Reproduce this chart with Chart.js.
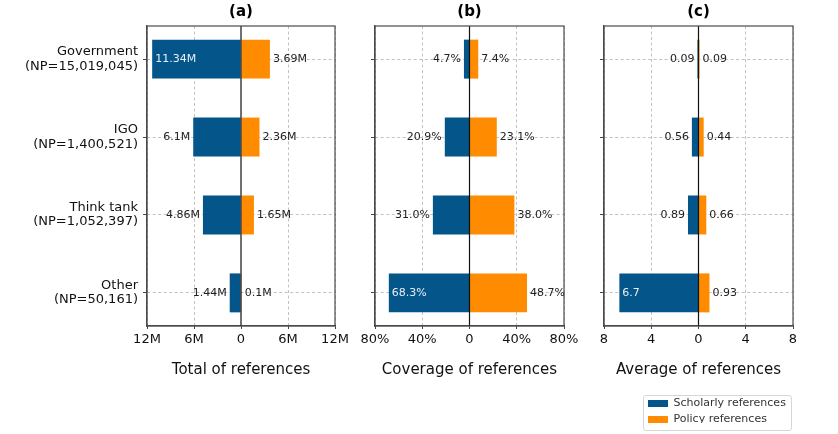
<!DOCTYPE html>
<html>
<head>
<meta charset="utf-8">
<script src="https://cdn.jsdelivr.net/npm/chart.js@4.4.1/dist/chart.umd.min.js"></script>
<style>
  html, body { margin: 0; padding: 0; background: #fff; }
  #wrap { position: relative; width: 838px; height: 434px; overflow: hidden; }
  .panel { position: absolute; top: 0; }
  #legendBox { position: absolute; left: 643px; top: 395px; width: 149px; height: 36px; border: 1px solid #d6d6d6; border-radius: 3px; overflow: hidden; box-sizing: border-box; }
  #legendBox canvas { position: absolute; left: -1px; top: -3px; }
</style>
</head>
<body>
<div id="wrap">
  <canvas id="chartA" class="panel" width="360" height="434" style="left:0px"></canvas>
  <canvas id="chartB" class="panel" width="240" height="434" style="left:345px"></canvas>
  <canvas id="chartC" class="panel" width="240" height="434" style="left:575px"></canvas>
  <div id="legendBox"><canvas id="legendChart" width="160" height="60"></canvas></div>
</div>
<script>
// categories (y axis, two-line labels)
const categories = [
    ['Government', '(NP=15,019,045)'],
    ['IGO', '(NP=1,400,521)'],
    ['Think tank', '(NP=1,052,397)'],
    ['Other', '(NP=50,161)']
];
const seriesNames = ['Scholarly references', 'Policy references'];

// (a) total of references, in millions
const totalScholarly = [11.34, 6.1, 4.86, 1.44];
const totalPolicy = [3.69, 2.36, 1.65, 0.1];
// (b) coverage, percent
const coverageScholarly = [4.7, 20.9, 31.0, 68.3];
const coveragePolicy = [7.4, 23.1, 38.0, 48.7];
// (c) average
const averageScholarly = [0.09, 0.56, 0.89, 6.7];
const averagePolicy = [0.09, 0.44, 0.66, 0.93];

const panelTitles = ['(a)', '(b)', '(c)'];
const axisTitles = ['Total of references', 'Coverage of references', 'Average of references'];
const axisLimits = [12, 80, 8];
const axisSteps = [6, 40, 4];
const tickUnits = ['M', '%', ''];

const BLUE = '#03558a';
const ORANGE = '#ff8c00';
const FONT = '"DejaVu Sans", sans-serif';

Chart.defaults.font.family = FONT;
Chart.defaults.color = '#111';

// box round the plot and the black zero line
const framePlugin = {
    id: 'frame',
    afterDatasetsDraw(chart) {
        const {ctx, chartArea: a, scales: {x}} = chart;
        const x0 = x.getPixelForValue(0);
        ctx.save();
        ctx.strokeStyle = '#111';
        ctx.lineWidth = 1.2;
        ctx.beginPath();
        ctx.moveTo(x0, a.top);
        ctx.lineTo(x0, a.bottom);
        ctx.stroke();
        ctx.strokeStyle = '#4a4a4a';
        ctx.lineWidth = 1.2;
        ctx.strokeRect(a.left, a.top, a.right - a.left, a.bottom - a.top);
        ctx.restore();
    }
};

// value labels next to (or inside) each bar
function valueLabels(fmt, lim) {
    return {
        id: 'valueLabels',
        afterDatasetsDraw(chart) {
            const ctx = chart.ctx;
            ctx.save();
            ctx.font = '11px ' + FONT;
            ctx.textBaseline = 'middle';
            chart.data.datasets.forEach((ds, di) => {
                chart.getDatasetMeta(di).data.forEach((bar, i) => {
                    const v = Math.abs(ds.data[i].x);
                    const txt = fmt(v);
                    if (di === 0) {
                        if (v > lim * 0.7) {
                            ctx.fillStyle = '#e9eef3';
                            ctx.textAlign = 'left';
                            ctx.fillText(txt, bar.x + 3, bar.y);
                        } else {
                            ctx.fillStyle = '#222';
                            ctx.textAlign = 'right';
                            ctx.fillText(txt, bar.x - 3, bar.y);
                        }
                    } else {
                        ctx.fillStyle = '#222';
                        ctx.textAlign = 'left';
                        ctx.fillText(txt, bar.x + 3, bar.y);
                    }
                });
            });
            ctx.restore();
        }
    };
}

function makePanel(id, k, scholarly, policy, fmt, axisWidth, padRight, showLabels) {
    const lim = axisLimits[k];
    const unit = tickUnits[k];
    return new Chart(document.getElementById(id), {
        type: 'bar',
        data: {
            datasets: [{
                label: seriesNames[0],
                data: scholarly.map((v, i) => ({x: -v, y: i})),
                backgroundColor: BLUE,
                borderWidth: 0,
                grouped: false,
                barPercentage: 0.5,
                categoryPercentage: 1
            }, {
                label: seriesNames[1],
                data: policy.map((v, i) => ({x: v, y: i})),
                backgroundColor: ORANGE,
                borderWidth: 0,
                grouped: false,
                barPercentage: 0.5,
                categoryPercentage: 1
            }]
        },
        options: {
            indexAxis: 'y',
            responsive: false,
            animation: false,
            layout: {padding: {left: 0, right: padRight, top: 0, bottom: 55}},
            plugins: {
                legend: {display: false},
                tooltip: {enabled: false},
                title: {
                    display: true,
                    text: panelTitles[k],
                    fullSize: false,
                    color: '#000',
                    font: {size: 15, weight: 'bold'},
                    padding: {top: 3, bottom: 5}
                }
            },
            scales: {
                x: {
                    type: 'linear',
                    min: -lim,
                    max: lim,
                    ticks: {
                        stepSize: axisSteps[k],
                        autoSkip: false,
                        maxRotation: 0,
                        padding: 3,
                        font: {size: 13},
                        color: '#111',
                        callback: v => v === 0 ? '0' : Math.abs(v) + unit
                    },
                    grid: {
                        color: c => (c.tick && c.tick.value === 0) ? 'rgba(0,0,0,0)' : '#c2c2c2',
                        tickColor: '#444',
                        tickLength: 3,
                        tickBorderDash: []
                    },
                    border: {color: '#4a4a4a', width: 1.2, dash: [3, 2.5]},
                    title: {display: true, text: axisTitles[k], font: {size: 15}, color: '#111', padding: 0},
                    afterFit: s => { s.height = 53; }
                },
                y: {
                    type: 'linear',
                    reverse: true,
                    offset: false,
                    min: -0.425,
                    max: 3.425,
                    afterBuildTicks: s => { s.ticks = categories.map((c, i) => ({value: i})); },
                    ticks: {
                        display: showLabels,
                        padding: 5,
                        font: {size: 13, lineHeight: 1.1},
                        color: '#111',
                        callback: (v, i) => categories[i]
                    },
                    grid: {offset: false, color: '#c2c2c2', tickColor: '#444', tickLength: 4, tickBorderDash: []},
                    border: {color: '#4a4a4a', width: 1.2, dash: [3, 2.5]},
                    afterFit: s => { s.width = axisWidth; }
                }
            }
        },
        plugins: [framePlugin, valueLabels(fmt, lim)]
    });
}

makePanel('chartA', 0, totalScholarly, totalPolicy, v => v + 'M', 147, 25, true);
makePanel('chartB', 1, coverageScholarly, coveragePolicy, v => v.toFixed(1) + '%', 30, 21, false);
makePanel('chartC', 2, averageScholarly, averagePolicy, v => String(v), 29, 22, false);

// legend
new Chart(document.getElementById('legendChart'), {
    type: 'bar',
    data: {
        labels: [],
        datasets: [
            {label: seriesNames[0], data: [], backgroundColor: BLUE, borderWidth: 0},
            {label: seriesNames[1], data: [], backgroundColor: ORANGE, borderWidth: 0}
        ]
    },
    options: {
        responsive: false,
        animation: false,
        layout: {padding: 0},
        scales: {x: {display: false}, y: {display: false}},
        plugins: {
            tooltip: {enabled: false},
            legend: {
                position: 'top',
                align: 'start',
                labels: {boxWidth: 20, boxHeight: 7, padding: 5, color: '#333', font: {size: 11}}
            }
        }
    }
});
</script>
</body>
</html>
